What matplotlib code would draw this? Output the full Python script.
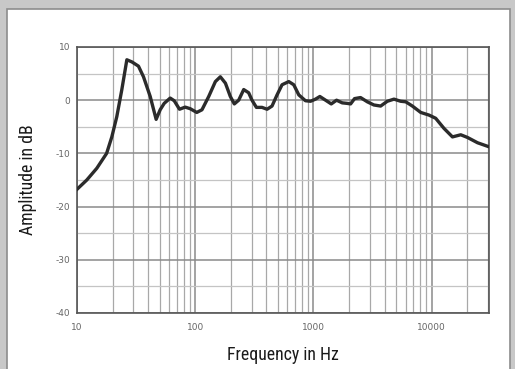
import matplotlib.pyplot as plt
from matplotlib import font_manager
from matplotlib.patches import Rectangle
from matplotlib.ticker import FixedLocator, NullFormatter

# frequency response
freq_hz = [10, 12.1, 14.7, 17.8, 19.7, 21.7, 23.9, 26.4, 29.1, 33.1, 36.5,
           41.6, 46.7, 50.5, 54.6, 61.4, 66.4, 73.6, 82.2, 90.7, 103, 114,
           130, 148, 163, 180, 198, 214, 233, 257, 283, 302, 329, 367, 405,
           446, 492, 542, 618, 681, 751, 855, 944, 1040, 1132, 1265, 1413,
           1567, 1750, 1930, 2060, 2225, 2500, 2850, 3245, 3698, 4210, 4795,
           5460, 6025, 6860, 8070, 9490, 10800, 12700, 14970, 17600, 20050,
           24400, 30000]
amp_db = [-16.75, -15.0, -12.8, -10.0, -6.9, -3.1, 1.9, 7.6, 7.2, 6.4, 4.4,
          0.7, -3.6, -1.8, -0.6, 0.4, -0.1, -1.7, -1.3, -1.6, -2.3, -1.8,
          0.7, 3.5, 4.4, 3.2, 0.7, -0.7, 0.0, 2.0, 1.4, 0.0, -1.35, -1.35,
          -1.7, -1.1, 1.0, 2.9, 3.5, 2.9, 1.0, -0.1, -0.2, 0.2, 0.7, 0.0,
          -0.7, 0.0, -0.5, -0.6, -0.7, 0.3, 0.5, -0.3, -0.9, -1.1, -0.2, 0.2,
          -0.2, -0.3, -1.1, -2.3, -2.8, -3.4, -5.3, -6.9, -6.5, -7.0, -8.0,
          -8.7]

x_ticks = [10, 100, 1000, 10000]
x_tick_labels = ["10", "100", "1000", "10000"]
y_ticks = [10, 0, -10, -20, -30, -40]
y_tick_labels = ["10", "0", "-10", "-20", "-30", "-40"]

# the axis titles use a condensed face; take the first one that is installed
installed = {f.name for f in font_manager.fontManager.ttflist}
label_font = "DejaVu Sans"
for name in ["Roboto Condensed", "Barlow Condensed", "Archivo Narrow",
             "PT Sans Narrow", "Fira Sans Condensed", "IBM Plex Sans Condensed",
             "Saira SemiCondensed", "DejaVu Sans Condensed"]:
    if name in installed:
        label_font = name
        break

fig = plt.figure(figsize=(5.15, 3.69), dpi=100)
fig.patch.set_facecolor("#c8c8c8")
# white panel with a thin darker edge
fig.patches.append(Rectangle((6.5 / 515, -0.01), 503.5 / 515, 1 - 9 / 369 + 0.01,
                             transform=fig.transFigure, facecolor="white",
                             edgecolor="#8c8c8c", linewidth=1.2, zorder=-1))

ax = fig.add_axes([77 / 515, 1 - 313 / 369, 412 / 515, 266 / 369])
ax.set_xscale("log")
ax.set_xlim(10, 30500)
ax.set_ylim(-40, 10)

ax.xaxis.set_major_locator(FixedLocator(x_ticks))
ax.set_xticklabels(x_tick_labels)
ax.xaxis.set_minor_locator(FixedLocator(
    [m * 10 ** k for k in range(1, 5) for m in range(2, 10) if m * 10 ** k < 30500]))
ax.xaxis.set_minor_formatter(NullFormatter())
ax.yaxis.set_major_locator(FixedLocator(y_ticks))
ax.set_yticklabels(y_tick_labels)
ax.yaxis.set_minor_locator(FixedLocator([5, -5, -15, -25, -35]))

ax.grid(which="major", color="#8a8a8a", linewidth=1.1)
ax.grid(which="minor", axis="x", color="#a8a8a8", linewidth=0.9)
ax.grid(which="minor", axis="y", color="#c4c4c4", linewidth=0.9)
ax.set_axisbelow(True)

ax.plot(freq_hz, amp_db, color="#2b2b2b", linewidth=2.4, solid_joinstyle="round",
        zorder=3)

for s in ax.spines.values():
    s.set_color("#555555")
    s.set_linewidth(1.2)

ax.tick_params(which="both", length=0, labelsize=6.5, labelcolor="#666666", pad=5)
ax.tick_params(axis="x", pad=7)

ax.set_xlabel("Frequency in Hz", fontsize=12.8, family=label_font, color="#1a1a1a",
              labelpad=10)
ax.set_ylabel("Amplitude in dB", fontsize=12.8, family=label_font, color="#1a1a1a",
              labelpad=13)

fig.savefig("out.png", dpi=100, facecolor=fig.get_facecolor())
